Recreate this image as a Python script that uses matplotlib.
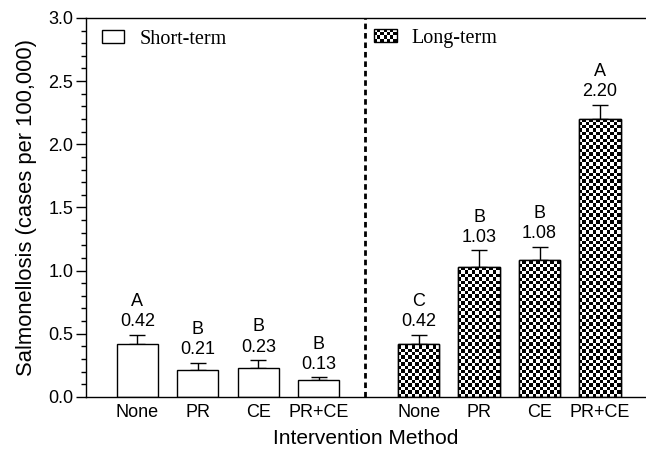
import matplotlib
matplotlib.use("Agg")
import matplotlib.pyplot as plt
import numpy as np
from matplotlib.patches import Rectangle
from matplotlib.legend_handler import HandlerBase

# datos
categorias = ["None", "PR", "CE", "PR+CE"]
corto_valor = [0.42, 0.21, 0.23, 0.13]
corto_error = [0.07, 0.06, 0.06, 0.025]
corto_letra = ["A", "B", "B", "B"]
largo_valor = [0.42, 1.03, 1.08, 2.20]
largo_error = [0.07, 0.13, 0.11, 0.11]
largo_letra = ["C", "B", "B", "A"]

plt.rcParams['font.family'] = ['Liberation Sans', 'DejaVu Sans']

fig = plt.figure(figsize=(6.46, 4.49), dpi=100)
ax = fig.add_axes([0.133, 0.116, 0.867, 0.844])

x_corto = np.arange(4)
x_largo = np.arange(4) + 4.65
ancho = 0.68
ax.set_xlim(-0.85, 8.41)
ax.set_ylim(0, 3.0)

# tamaño de la celda del tablero (~3.4 px)
px_x = 560 / (8.41 + 0.85)
px_y = 379 / 3.0
cx = 3.4 / px_x
cy = 3.4 / px_y

# barras corto plazo (blancas)
ax.bar(x_corto, corto_valor, width=ancho, facecolor='white',
       edgecolor='black', linewidth=1, zorder=2)

# barras largo plazo (tablero de ajedrez)
barras = ax.bar(x_largo, largo_valor, width=ancho, facecolor='white',
                edgecolor='black', linewidth=1, zorder=2)
for b in barras:
    x0 = b.get_x()
    w = b.get_width()
    h = b.get_height()
    nx = int(round(w / cx))
    ny = int(np.ceil(h / cy))
    tablero = (np.indices((ny, nx)).sum(axis=0) % 2).astype(float)
    im = ax.imshow(tablero, cmap='gray', interpolation='nearest', origin='lower',
                   extent=[x0, x0 + w, 0, ny * cy], aspect='auto', zorder=2.5, vmin=0, vmax=1)
    im.set_clip_path(b)
ax.bar(x_largo, largo_valor, width=ancho, facecolor='none',
       edgecolor='black', linewidth=1, zorder=3)

# barras de error solo hacia arriba
ax.errorbar(x_corto, corto_valor, yerr=[np.zeros(4), corto_error], fmt='none',
            ecolor='black', elinewidth=1, capsize=6, capthick=1, zorder=1)
ax.errorbar(x_largo, largo_valor, yerr=[np.zeros(4), largo_error], fmt='none',
            ecolor='black', elinewidth=1, capsize=6, capthick=1, zorder=1)

# etiquetas de valor y letra
for xs, vals, errs, letras in [(x_corto, corto_valor, corto_error, corto_letra),
                               (x_largo, largo_valor, largo_error, largo_letra)]:
    for xi, v, e, l in zip(xs, vals, errs, letras):
        ax.annotate(f"{v:.2f}", (xi, v + e), xytext=(0, 9.5), textcoords='offset points',
                    ha='center', va='center', fontsize=13)
        ax.annotate(l, (xi, v + e), xytext=(0, 24), textcoords='offset points',
                    ha='center', va='center', fontsize=13)

# linea divisoria
ax.axvline(3.76, color='black', linestyle=(0, (2, 1.4)), linewidth=2, zorder=1)

ax.set_xticks(np.concatenate([x_corto, x_largo]))
ax.set_xticklabels(categorias + categorias, fontsize=13)
ax.tick_params(axis='x', length=0, pad=5)
ax.set_yticks(np.arange(0, 3.01, 0.5))
ax.set_yticklabels([f"{v:.1f}" for v in np.arange(0, 3.01, 0.5)], fontsize=13)
ax.set_yticks(np.arange(0, 3.01, 0.1), minor=True)
ax.tick_params(axis='y', which='major', length=7, width=1, direction='out', pad=2)
ax.tick_params(axis='y', which='minor', length=3.5, width=1, direction='out')
ax.spines['right'].set_visible(False)
for s in ['left', 'bottom', 'top']:
    ax.spines[s].set_linewidth(1)
ax.set_xlabel('Intervention Method', fontsize=15, labelpad=6)
ax.set_ylabel('Salmonellosis (cases per 100,000)', fontsize=15.8)
ax.yaxis.set_label_coords(-0.088, 0.5)


class HandlerTablero(HandlerBase):
    def create_artists(self, legend, orig_handle, xdescent, ydescent, width, height, fontsize, trans):
        artistas = []
        nx, ny = 7, 4
        dx = width / nx
        dy = height / ny
        for i in range(nx):
            for j in range(ny):
                if (i + j) % 2 == 0:
                    artistas.append(Rectangle((-xdescent + i * dx, -ydescent + j * dy), dx, dy,
                                              facecolor='black', edgecolor='none', transform=trans))
        artistas.append(Rectangle((-xdescent, -ydescent), width, height, facecolor='none',
                                  edgecolor='black', linewidth=1, transform=trans))
        return artistas


caja_corto = Rectangle((0, 0), 1, 1, facecolor='white', edgecolor='black', linewidth=1)
caja_largo = Rectangle((0, 0), 1, 1, facecolor='white', edgecolor='black', linewidth=1)
opciones = dict(loc='upper left', frameon=False,
                prop={'family': 'Liberation Serif', 'size': 14.5},
                handlelength=1.13, handleheight=0.64, handletextpad=0.74,
                borderaxespad=0, borderpad=0)
leg1 = ax.legend([caja_corto], ['Short-term'], bbox_to_anchor=(0.028, 0.969), **opciones)
ax.add_artist(leg1)
ax.legend([caja_largo], ['Long-term'], bbox_to_anchor=(0.514, 0.972),
          handler_map={caja_largo: HandlerTablero()}, **opciones)

fig.savefig('out.png', dpi=100)
